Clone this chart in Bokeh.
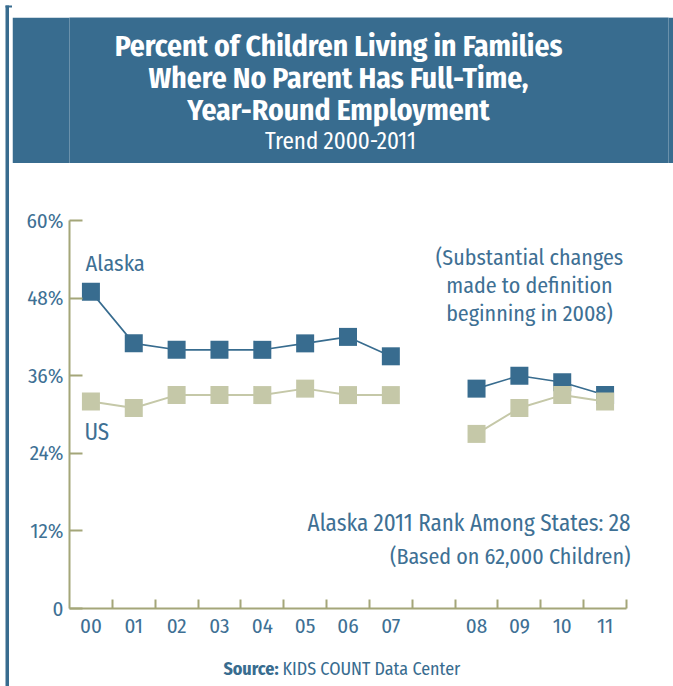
from bokeh.plotting import figure
from bokeh.layouts import row, column
from bokeh.models import Range1d, FixedTicker, Label, BoxAnnotation, LinearAxis, Spacer
from bokeh.embed import file_html
from bokeh.resources import INLINE

# ---- data ----
years = ["00", "01", "02", "03", "04", "05", "06", "07", "08", "09", "10", "11"]
alaska = [49, 41, 40, 40, 40, 41, 42, 39, 34, 36, 35, 33]
us = [32, 31, 33, 33, 33, 34, 33, 33, 27, 31, 33, 32]
y_ticks = [0, 12, 24, 36, 48, 60]
y_tick_labels = ["0", "12%", "24%", "36%", "48%", "60%"]
gap_after = 8  # definition change: empty slot between 07 and 08

# slot centres (one empty slot inserted before 2008)
xpos = [i + 0.5 if i < gap_after else i + 1.5 for i in range(len(years))]
n_slots = len(years) + 1

FONT = "Fira Sans Condensed"
BLUE = "#386c8f"
BEIGE = "#c5c8a8"
AXIS = "#a4a679"
TXT = "#3e7094"

W, H = 673, 686
STRIP = 12                      # left strip holding the outer border line
IW = W - STRIP
TOP_GAP, TOP_LINE, HEAD_GAP = 5, 2, 10
HEAD_Y0, HEAD_Y1 = 17, 163      # title box on the page
FOOT_H = 31
FL, FT, FB = 69, 220, 608       # plot frame left / top / bottom on the page
AX_R = 626                      # right end of the x axis on the page
FR_PAGE = 668                   # frame right edge on the page (room for right-aligned text)
MAIN_H = H - HEAD_Y1 - FOOT_H
DY = 8                          # baseline correction for label placement


def blank(width, height, xr, yr, fill="white", **kw):
    opts = dict(min_border_left=FL - STRIP, min_border_right=W - FR_PAGE, min_border_top=0, min_border_bottom=0)
    opts.update(kw)
    f = figure(width=width, height=height, output_backend="svg", toolbar_location=None,
               x_range=Range1d(*xr), y_range=Range1d(*yr), x_axis_type=None, y_axis_type=None,
               outline_line_color=None, background_fill_color=fill, border_fill_color=fill, **opts)
    f.grid.visible = False
    return f


# ---- outer border strip (left) ----
strip = blank(STRIP, H, (0, STRIP), (H, 0), min_border_left=0, min_border_right=0)
strip.add_layout(BoxAnnotation(left=5, right=8.5, top=TOP_GAP, bottom=H,
                               fill_color=BLUE, fill_alpha=1, line_color=None))
strip.add_layout(BoxAnnotation(left=5, right=STRIP, top=TOP_GAP, bottom=TOP_GAP + TOP_LINE,
                               fill_color=BLUE, fill_alpha=1, line_color=None))

# ---- top border line ----
top_line = blank(IW, TOP_LINE, (0, 1), (0, 1), fill=BLUE)

# ---- header (title box) ----
head = blank(IW, HEAD_Y1 - HEAD_Y0, (FL, FR_PAGE), (HEAD_Y1, HEAD_Y0), fill=BLUE)
title_lines = ["Percent of Children Living in Families",
               "Where No Parent Has Full-Time,",
               "Year-Round Employment"]
for i, t in enumerate(title_lines):
    head.add_layout(Label(x=338, y=54 + 32 * i - 9, text=t, text_align="center", text_baseline="alphabetic",
                          text_font=FONT, text_font_style="bold", text_font_size="29.5px", text_color="white"))
head.add_layout(Label(x=340, y=148 - DY, text="Trend 2000-2011", text_align="center", text_baseline="alphabetic",
                      text_font=FONT, text_font_size="23px", text_color="white"))

# ---- main plot ----
slot_px = (AX_R - FL) / n_slots
x_end = (FR_PAGE - FL) / slot_px

main = figure(width=IW, height=MAIN_H, output_backend="svg", toolbar_location=None,
              x_range=Range1d(0, x_end), y_range=Range1d(0, 60),
              min_border_left=FL - STRIP, min_border_right=W - FR_PAGE,
              min_border_top=FT - HEAD_Y1, min_border_bottom=HEAD_Y1 + MAIN_H - FB,
              x_axis_type=None, y_axis_type=None, outline_line_color=None,
              background_fill_color="white", border_fill_color="white")

yaxis = LinearAxis(ticker=FixedTicker(ticks=y_ticks, minor_ticks=[]),
                   major_label_overrides={t: l for t, l in zip(y_ticks, y_tick_labels)},
                   axis_line_color=AXIS, axis_line_width=2,
                   major_tick_line_color=AXIS, major_tick_line_width=2,
                   major_tick_in=13, major_tick_out=0, minor_tick_line_color=None,
                   major_label_text_font=FONT, major_label_text_font_size="21px",
                   major_label_text_color=TXT, major_label_standoff=6)
main.add_layout(yaxis, "left")

xaxis = LinearAxis(ticker=FixedTicker(ticks=xpos, minor_ticks=list(range(1, n_slots + 1))),
                   bounds=(0, n_slots),
                   major_label_overrides={x: l for x, l in zip(xpos, years)},
                   axis_line_color=AXIS, axis_line_width=2,
                   major_tick_line_color=None, major_tick_in=0, major_tick_out=0,
                   minor_tick_line_color=AXIS, minor_tick_line_width=2,
                   minor_tick_in=9, minor_tick_out=0,
                   major_label_text_font=FONT, major_label_text_font_size="21px",
                   major_label_text_color=TXT, major_label_standoff=10)
main.add_layout(xaxis, "below")

main.line(xpos[:gap_after], alaska[:gap_after], line_color=BLUE, line_width=1.6)
main.line(xpos[gap_after:], alaska[gap_after:], line_color=BLUE, line_width=1.6)
main.scatter(xpos, alaska, marker="square", size=18, fill_color=BLUE, line_color=None)
main.line(xpos[:gap_after], us[:gap_after], line_color=BEIGE, line_width=2)
main.line(xpos[gap_after:], us[gap_after:], line_color=BEIGE, line_width=2)
main.scatter(xpos, us, marker="square", size=18, fill_color=BEIGE, line_color=None)


def lab(x, y, text, align="left", size="23px"):
    # x, y given as page pixels; converted to screen units relative to the frame
    main.add_layout(Label(x=x - FL, y=FB - (y - DY), x_units="screen", y_units="screen", text=text,
                          text_align=align, text_baseline="alphabetic", text_font=FONT,
                          text_font_size=size, text_color=TXT))


lab(85, 271, "Alaska", size="22.5px")
lab(84, 439, "US", size="23px")
for i, t in enumerate(["(Substantial changes", "made to definition", "beginning in 2008)"]):
    lab(529, 265 + 28 * i, t, align="center", size="22px")
lab(630, 530, "Alaska 2011 Rank Among States: 28", align="right", size="23px")
lab(630, 564, "(Based on 62,000 Children)", align="right", size="22px")

# ---- footer ----
foot = blank(IW, FOOT_H, (FL, FR_PAGE), (H, H - FOOT_H))
foot.add_layout(Label(x=278, y=674 - 6, text="Source:", text_align="right", text_baseline="alphabetic",
                      text_font=FONT, text_font_style="bold", text_font_size="18px", text_color=BLUE))
foot.add_layout(Label(x=282, y=674 - 6, text="KIDS COUNT Data Center", text_align="left",
                      text_baseline="alphabetic", text_font=FONT, text_font_size="18px", text_color=BLUE))

right_col = column(Spacer(width=IW, height=TOP_GAP), top_line, Spacer(width=IW, height=HEAD_GAP),
                   head, main, foot, spacing=0)
layout = row(strip, right_col, spacing=0)
open("out.html", "w").write(file_html(layout, INLINE))
